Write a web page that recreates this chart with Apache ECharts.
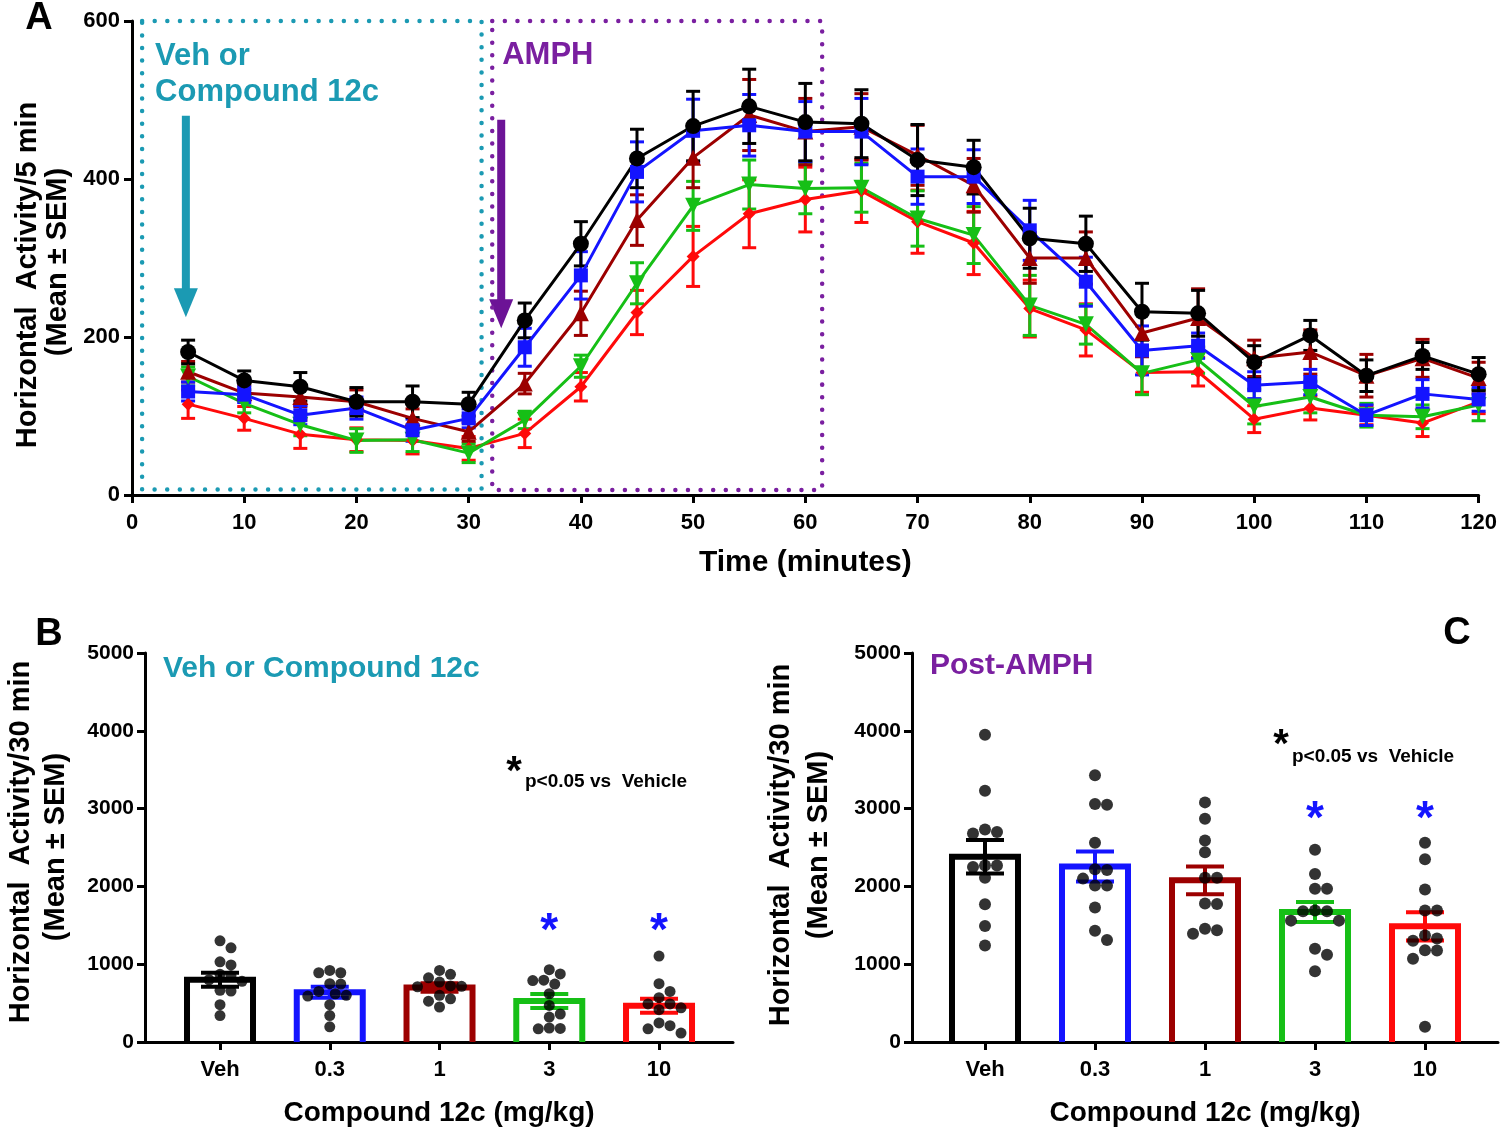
<!DOCTYPE html>
<html><head><meta charset="utf-8">
<script src="https://cdn.jsdelivr.net/npm/echarts@6/dist/echarts.min.js"></script>
<style>html,body{margin:0;padding:0;background:#fff}#c{width:1500px;height:1130px}</style>
</head><body><div id="c"></div>
<script>
// ---------------- DATA ----------------
const timeMin = [5,10,15,20,25,30,35,40,45,50,55,60,65,70,75,80,85,90,95,100,105,110,115,120];
// Panel A: mean and SEM per 5-min bin
const vehMean   = [181,145,137,118,118,115,221,318,426,467,492,472,470,424,415,325,318,232,230,168,202,151,176,153];
const vehSEM    = [15,12,18,18,20,15,22,28,37,44,47,49,43,45,34,38,35,36,29,21,19,20,17,21];
const d03Mean   = [131,127,101,110,82,97,187,278,409,461,468,460,460,403,403,335,270,183,189,139,143,101,128,121];
const d03SEM    = [12,10,12,14,14,12,24,30,38,40,39,38,42,35,34,38,31,31,16,17,16,13,18,15];
const d1Mean    = [156,129,124,118,97,80,141,230,348,427,481,460,466,430,392,300,300,205,224,173,181,151,173,148];
const d1SEM     = [13,10,12,15,12,12,13,28,32,38,45,42,42,38,34,32,33,30,37,23,28,27,24,20];
const d3Mean    = [150,116,89,69,70,53,95,163,268,366,393,388,389,350,329,240,216,154,171,112,124,101,99,114];
const d3SEM     = [12,12,14,15,15,12,11,14,26,31,31,32,31,35,36,38,25,27,17,22,20,15,15,20];
const d10Mean   = [115,97,77,70,69,59,78,137,231,302,356,374,385,346,319,236,209,155,156,96,110,101,91,118];
const d10SEM    = [18,15,18,15,17,15,18,18,28,38,43,41,40,40,40,36,33,25,18,17,15,12,17,15];

const xTicksA = [0,10,20,30,40,50,60,70,80,90,100,110,120];
const yTicksA = [0,200,400,600];

// Panels B and C
const doseLabels = ['Veh','0.3','1','3','10'];
const preMean  = [800,640,700,528,465];
const preSEM   = [90,70,55,90,90];
const postMean = [2380,2256,2078,1670,1487];
const postSEM  = [215,193,178,128,182];

const preDotsVeh = [1300,1210,1030,990,870,850,800,780,665,655,480,340];
const preDots03  = [920,890,890,750,745,650,620,600,590,480,340,195];
const preDots1   = [920,870,825,770,720,715,710,600,555,525,450];
const preDots3   = [930,875,795,790,745,620,470,360,320,180,175,170];
const preDots10  = [1105,750,650,570,490,490,440,415,245,210,170,115];

const postDotsVeh = [3950,3230,2730,2700,2680,2270,2270,2250,2110,1770,1490,1240];
const postDots03  = [3430,3060,3050,2560,2220,2210,2100,2010,2010,1730,1430,1310];
const postDots1   = [3080,2870,2590,2440,2110,2110,1780,1775,1455,1435,1390];
const postDots3   = [2470,2160,1970,1970,1690,1680,1680,1560,1560,1200,1120,910];
const postDots10  = [2560,2350,1960,1690,1690,1370,1330,1300,1180,1175,1070,195];

// --------------- STYLE / LAYOUT ---------------
const FONT = '"Liberation Sans", Arial, Helvetica, sans-serif';
const C_BLACK='#000000', C_BLUE='#1414ff', C_DRED='#9c0000', C_GREEN='#16bf16', C_RED='#ff0a0a';
const groupColors = [C_BLACK, C_BLUE, C_DRED, C_GREEN, C_RED];
const TEAL='#1b9ab3', PURPLE='#7a1fa0', PURPLE_ARROW='#6c1396';

const GA = {left:132, top:21, width:1348, height:474};
const GB = {left:145, top:653, width:588, height:389};
const GC = {left:912, top:653, width:586, height:389};
const B_XMIN=-0.6834, B_XMAX=4.674, C_XMIN=-0.6636, C_XMAX=4.6636;

const axLine = {onZero:false, lineStyle:{color:'#000', width:3}};
const axTick = {length:8, lineStyle:{color:'#000', width:3}};
const lblStyle = {color:'#000', fontFamily:FONT, fontWeight:'bold', fontSize:21};
const nameStyle = {color:'#000', fontFamily:FONT, fontWeight:'bold', fontSize:30};
const plain = v => String(Math.round(v));

function errRender(color, capW, lw){
  return function(params, api){
    const x=api.value(0), lo=api.value(1), hi=api.value(2);
    const a=api.coord([x,lo]), b=api.coord([x,hi]), h=capW/2;
    const st={stroke:color, lineWidth:lw};
    return {type:'group', children:[
      {type:'line', shape:{x1:a[0],y1:a[1],x2:b[0],y2:b[1]}, style:st},
      {type:'line', shape:{x1:b[0]-h,y1:b[1],x2:b[0]+h,y2:b[1]}, style:st},
      {type:'line', shape:{x1:a[0]-h,y1:a[1],x2:a[0]+h,y2:a[1]}, style:st}
    ]};
  };
}

function lineGroup(name, mean, sem, color, symbol, size, rotate){
  const err = {
    type:'custom', name:name+' err', xAxisIndex:0, yAxisIndex:0,
    renderItem: errRender(color, 14, 3), encode:{x:0, y:[1,2]},
    data: timeMin.map((t,i)=>[t, mean[i]-sem[i], mean[i]+sem[i]]), z:2
  };
  const ln = {
    type:'line', name:name, xAxisIndex:0, yAxisIndex:0,
    data: timeMin.map((t,i)=>[t, mean[i]]),
    symbol:symbol, symbolSize:size, symbolRotate:rotate||0, showSymbol:true,
    lineStyle:{color:color, width:3}, itemStyle:{color:color, borderWidth:0}, z:3
  };
  return [err, ln];
}

function barRender(colors, barW, capW){
  return function(params, api){
    const x=api.value(0), m=api.value(1), s=api.value(2);
    const color = colors[params.dataIndex];
    const base=api.coord([x,0]), top=api.coord([x,m]), hi=api.coord([x,m+s]), lo=api.coord([x,m-s]);
    const hw=barW/2, hc=capW/2;
    const est={stroke:color, lineWidth:4};
    return {type:'group', children:[
      {type:'polyline', shape:{points:[[base[0]-hw,base[1]],[base[0]-hw,top[1]],[base[0]+hw,top[1]],[base[0]+hw,base[1]]]},
        style:{stroke:color, lineWidth:6, fill:null, lineJoin:'miter'}},
      {type:'line', shape:{x1:lo[0],y1:lo[1],x2:hi[0],y2:hi[1]}, style:est},
      {type:'line', shape:{x1:hi[0]-hc,y1:hi[1],x2:hi[0]+hc,y2:hi[1]}, style:est},
      {type:'line', shape:{x1:lo[0]-hc,y1:lo[1],x2:lo[0]+hc,y2:lo[1]}, style:est}
    ]};
  };
}

// simple deterministic beeswarm (layout only): spreads dots sideways to avoid overlap
function swarm(values, center, pxPerX, pxPerY, d){
  const order = values.map((v,i)=>i).sort((a,b)=>values[b]-values[a]);
  const placed=[], out=new Array(values.length);
  order.forEach(i=>{
    const py = values[i]*pxPerY;
    for(let k=0;k<60;k++){
      const off = (k===0?0:(k%2?1:-1)*Math.ceil(k/2))*d*0.5;
      let ok = true;
      for(const p of placed){ const dx=off-p.ox, dy=py-p.py; if(dx*dx+dy*dy < d*d*0.92){ok=false;break;} }
      if(ok){ placed.push({ox:off, py}); out[i]=[center+off/pxPerX, values[i]]; break; }
    }
  });
  return out;
}

const preGroups = [preDotsVeh, preDots03, preDots1, preDots3, preDots10];
const postGroups = [postDotsVeh, postDots03, postDots1, postDots3, postDots10];
const pxXB = GB.width/(B_XMAX-B_XMIN), pxYB = GB.height/5000;
const pxXC = GC.width/(C_XMAX-C_XMIN), pxYC = GC.height/5000;
let preScatter=[], postScatter=[];
preGroups.forEach((g,i)=>{ preScatter = preScatter.concat(swarm(g, i, pxXB, pxYB, 11)); });
postGroups.forEach((g,i)=>{ postScatter = postScatter.concat(swarm(g, i, pxXC, pxYC, 12)); });

const series = []
  .concat(lineGroup('10 mg/kg', d10Mean, d10SEM, C_RED, 'diamond', 13))
  .concat(lineGroup('3 mg/kg', d3Mean, d3SEM, C_GREEN, 'triangle', 16, 180))
  .concat(lineGroup('1 mg/kg', d1Mean, d1SEM, C_DRED, 'triangle', 16))
  .concat(lineGroup('0.3 mg/kg', d03Mean, d03SEM, C_BLUE, 'rect', 14))
  .concat(lineGroup('Veh', vehMean, vehSEM, C_BLACK, 'circle', 16));

series.push({
  type:'custom', xAxisIndex:1, yAxisIndex:1, renderItem: barRender(groupColors, 66, 38),
  encode:{x:0, y:1}, data: preMean.map((m,i)=>[i, m, preSEM[i]]), z:2
});
series.push({
  type:'scatter', xAxisIndex:1, yAxisIndex:1, data: preScatter, symbolSize:11,
  itemStyle:{color:'#000'}, z:4
});
series.push({
  type:'custom', xAxisIndex:2, yAxisIndex:2, renderItem: barRender(groupColors, 66, 38),
  encode:{x:0, y:1}, data: postMean.map((m,i)=>[i, m, postSEM[i]]), z:2
});
series.push({
  type:'scatter', xAxisIndex:2, yAxisIndex:2, data: postScatter, symbolSize:12,
  itemStyle:{color:'#000'}, z:4
});

const catAxis = (gi, mn, mx) => ({
  type:'value', gridIndex:gi, min:mn, max:mx,
  axisLine:axLine,
  axisTick:Object.assign({}, axTick, {customValues:[0,1,2,3,4]}),
  axisLabel:Object.assign({}, lblStyle, {fontSize:22, margin:17, customValues:[0,1,2,3,4], formatter:v=>doseLabels[Math.round(v)]}),
  splitLine:{show:false},
  name:'Compound 12c (mg/kg)', nameLocation:'middle', nameGap:57,
  nameTextStyle:Object.assign({}, nameStyle, {fontSize:28})
});
const countAxis = gi => ({
  type:'value', gridIndex:gi, min:0, max:5000, interval:1000,
  axisLine:Object.assign({show:true}, axLine), axisTick:axTick,
  axisLabel:Object.assign({}, lblStyle, {margin:11, formatter:plain}), splitLine:{show:false}
});

const option = {
  animation:false,
  backgroundColor:'#fff',
  grid:[
    Object.assign({}, GA),
    Object.assign({}, GB),
    Object.assign({}, GC)
  ],
  xAxis:[
    {type:'value', gridIndex:0, min:0, max:120, interval:10,
     axisLine:axLine, axisTick:axTick,
     axisLabel:Object.assign({}, lblStyle, {fontSize:22, margin:17, customValues:xTicksA, formatter:plain}),
     splitLine:{show:false},
     name:'Time (minutes)', nameLocation:'middle', nameGap:53, nameTextStyle:nameStyle},
    catAxis(1, B_XMIN, B_XMAX),
    catAxis(2, C_XMIN, C_XMAX)
  ],
  yAxis:[
    {type:'value', gridIndex:0, min:0, max:600, interval:200,
     axisLine:Object.assign({show:true}, axLine), axisTick:axTick,
     axisLabel:Object.assign({}, lblStyle, {fontSize:22, margin:12, customValues:yTicksA, formatter:plain}), splitLine:{show:false}},
    countAxis(1),
    countAxis(2)
  ],
  series: series
};

const chart = echarts.init(document.getElementById('c'), null, {width:1500, height:1130});
chart.setOption(option);

// ---------- annotations (positions derived from axes) ----------
const pA = (x,y)=>chart.convertToPixel({gridIndex:0},[x,y]);
const pB = (x,y)=>chart.convertToPixel({gridIndex:1},[x,y]);
const pC = (x,y)=>chart.convertToPixel({gridIndex:2},[x,y]);

function dottedBox(x0,y0,x1,y1,color){
  const a=pA(x0,y0), b=pA(x1,y1);
  return {type:'rect', shape:{x:a[0], y:a[1], width:b[0]-a[0], height:b[1]-a[1]},
    style:{fill:null, stroke:color, lineWidth:4.5, lineDash:[0.01,12.6], lineCap:'round'}, z:1, silent:true};
}
function arrow(xm, yTop, yTip, color){
  const t=pA(xm,yTop), p=pA(xm,yTip);
  const headLen=29, headHalf=12, shaftHalf=4;
  return {type:'group', z:5, children:[
    {type:'rect', shape:{x:t[0]-shaftHalf, y:t[1], width:shaftHalf*2, height:p[1]-headLen-t[1]+1}, style:{fill:color}},
    {type:'polygon', shape:{points:[[p[0]-headHalf,p[1]-headLen],[p[0]+headHalf,p[1]-headLen],[p[0],p[1]]]}, style:{fill:color}}
  ]};
}
function txt(x,y,s,size,color,align,extra){
  return Object.assign({type:'text', x:x, y:y, z:10, style:{text:s, fill:color, font:'bold '+size+'px '+FONT,
    textAlign:align||'left', textVerticalAlign:'middle'}}, extra||{});
}
function vtxt(x,y,s,size){
  return {type:'text', x:x, y:y, rotation:Math.PI/2, z:10,
    style:{text:s, fill:'#000', font:'bold '+size+'px '+FONT, textAlign:'center', textVerticalAlign:'middle'}};
}

const boxT = dottedBox(0.9, 600, 31.15, 7, TEAL);
const boxP = dottedBox(32.1, 600, 61.5, 6.3, PURPLE);
const tl = pA(0.9, 600), pl = pA(32.1, 600);

const starB3 = pB(3, 1540), starB4 = pB(4, 1540);
const starC3 = pC(3, 2980), starC4 = pC(4, 2980);

const graphics = [
  boxT, boxP,
  arrow(4.8, 480, 225, TEAL),
  arrow(32.9, 475, 211, PURPLE_ARROW),
  txt(tl[0]+13, tl[1]+35, 'Veh or', 31, TEAL),
  txt(tl[0]+13, tl[1]+71, 'Compound 12c', 31, TEAL),
  txt(pl[0]+10, pl[1]+34, 'AMPH', 31, PURPLE),
  // panel letters
  txt(39, 19, 'A', 38, '#000', 'center'),
  txt(49, 635, 'B', 38, '#000', 'center'),
  txt(1457, 634, 'C', 38, '#000', 'center'),
  // y axis names
  vtxt(28, 275, 'Horizontal  Activity/5 min', 29),
  vtxt(58, 262, '(Mean \u00b1 SEM)', 29),
  vtxt(21, 842, 'Horizontal  Activity/30 min', 29),
  vtxt(56, 847, '(Mean \u00b1 SEM)', 29),
  vtxt(781, 845, 'Horizontal  Activity/30 min', 29),
  vtxt(819, 845, '(Mean \u00b1 SEM)', 29),
  // panel titles
  txt(163, 669, 'Veh or Compound 12c', 30, TEAL),
  txt(930, 666, 'Post-AMPH', 30, PURPLE),
  // significance notes
  txt(514, 773, '*', 40, '#000', 'center'),
  txt(525, 782, 'p<0.05 vs  Vehicle', 19, '#000'),
  txt(1281, 746, '*', 40, '#000', 'center'),
  txt(1292, 757, 'p<0.05 vs  Vehicle', 19, '#000'),
  txt(starB3[0], starB3[1]+10, '*', 46, '#1414ff', 'center'),
  txt(starB4[0], starB4[1]+10, '*', 46, '#1414ff', 'center'),
  txt(starC3[0], starC3[1]+10, '*', 46, '#1414ff', 'center'),
  txt(starC4[0], starC4[1]+10, '*', 46, '#1414ff', 'center')
];
chart.setOption({graphic: graphics});
</script></body></html>
